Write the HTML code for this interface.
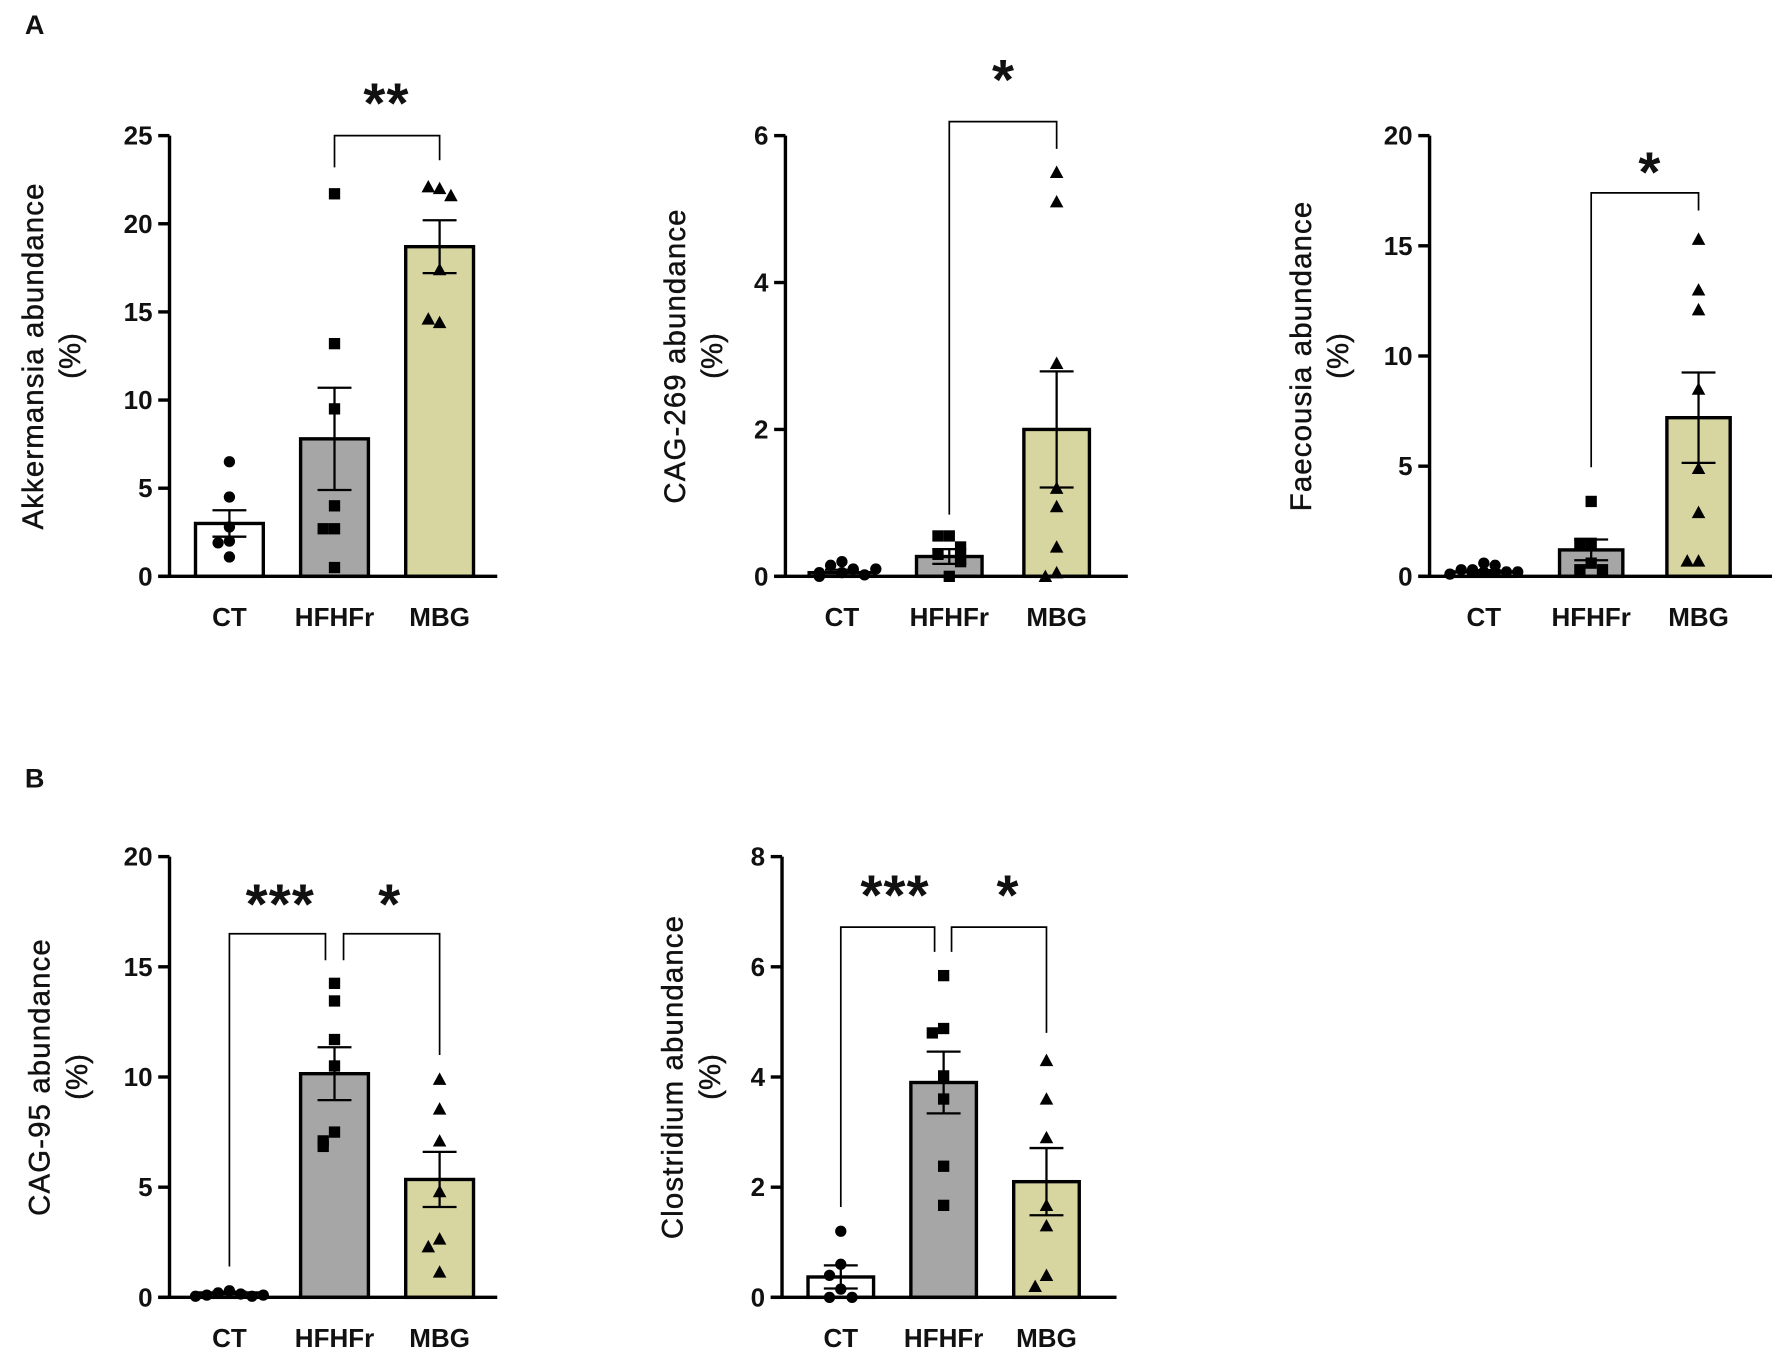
<!DOCTYPE html>
<html><head><meta charset="utf-8"><style>
html,body{margin:0;padding:0;background:#fff;}
svg{display:block;}
text{font-family:"Liberation Sans",Arial,sans-serif;fill:#111;}
</style></head><body>
<svg id="fig" width="1772" height="1355" viewBox="0 0 1568 1199" preserveAspectRatio="none" xmlns="http://www.w3.org/2000/svg">
<text x="22" y="30" font-size="24" font-weight="bold">A</text>
<text x="22" y="697" font-size="24" font-weight="bold">B</text>
</svg>
<script>
const groups = ["CT","HFHFr","MBG"];
// Akkermansia
const akkMeans = [3.0, 7.8, 18.7];
const akkSem = [0.75, 2.9, 1.5];
const akkCT = [6.5, 4.5, 2.8, 2.0, 1.9, 1.1];
const akkHF = [21.7, 13.2, 9.5, 4.0, 2.7, 2.7, 0.5];
const akkMBG = [22.0, 22.1, 21.6, 17.4, 14.4, 14.6];
const akkTicks = [0,5,10,15,20,25];
// CAG-269
const cag269Means = [0.05, 0.27, 2.0];
const cag269Sem = [0.04, 0.1, 0.79];
const cag269CT = [0.2, 0.15, 0.1, 0.05, 0.0, 0.02, 0.1, 0.05];
const cag269HF = [0.55, 0.55, 0.4, 0.3, 0.25, 0.2, 0.0];
const cag269MBG = [5.5, 5.1, 2.9, 1.2, 0.95, 0.4, 0.05, 0.0];
const cag269Ticks = [0,2,4,6];
// Faecousia
const faeMeans = [0.2, 1.2, 7.2];
const faeSem = [0.08, 0.47, 2.05];
const faeCT = [0.6, 0.3, 0.5, 0.3, 0.2, 0.1, 0.2, 0.2];
const faeHF = [3.4, 1.5, 1.5, 0.6, 0.3, 0.3];
const faeMBG = [15.3, 13.0, 12.1, 8.5, 4.9, 2.9, 0.7, 0.7];
const faeTicks = [0,5,10,15,20];
// CAG-95
const cag95Means = [0.2, 10.15, 5.35];
const cag95Sem = [0.06, 1.2, 1.25];
const cag95CT = [0.3, 0.2, 0.15, 0.1, 0.05, 0.05, 0.1];
const cag95HF = [14.25, 13.45, 11.7, 10.5, 7.5, 7.1, 6.85];
const cag95MBG = [9.9, 8.55, 7.1, 4.8, 2.65, 2.3, 1.15];
const cag95Ticks = [0,5,10,15,20];
// Clostridium
const closMeans = [0.37, 3.9, 2.1];
const closSem = [0.21, 0.56, 0.61];
const closCT = [1.2, 0.6, 0.4, 0.15, 0.0, 0.0];
const closHF = [5.84, 4.88, 4.8, 4.02, 3.6, 2.38, 1.67];
const closMBG = [4.3, 3.6, 2.9, 1.67, 1.3, 0.4, 0.2];
const closTicks = [0,2,4,6,8];

const NS = "http://www.w3.org/2000/svg";
const svg = document.getElementById("fig");
const fills = ["#ffffff","#a6a6a6","#d8d6a0"];
const offs = [0,-10,10,-20,20,-30,30,0];

function mk(tag, attrs, parent){
  const e = document.createElementNS(NS, tag);
  for (const k in attrs) e.setAttribute(k, attrs[k]);
  (parent||svg).appendChild(e);
  return e;
}

function chart(c){
  const g = mk("g", {});
  
  
  const y = v => c.y0 - (v / c.max) * (c.y0 - c.yTop);
  const x = i => c.ax + c.first + i * c.step;
  c.means.forEach((m, i) => {
    const r = mk("rect", {x: x(i)-c.bw/2, y: y(m), width: c.bw, height: c.y0 - y(m), fill: fills[i], stroke: "#000", "stroke-width": 3}, g);
    
    
  });
  c.pts.forEach((arr, i) => {
    const placed = [];
    arr.forEach((v, k) => {
      const py = y(v);
      let n = 0;
      placed.forEach(p => { if (Math.abs(p - py) < 11) n++; });
      placed.push(py);
      const px = x(i) + offs[n % offs.length];
      let p;
      if (i === 0) p = mk("circle", {cx: px, cy: py, r: 5, fill: "#000"}, g);
      else if (i === 1) p = mk("rect", {x: px-5, y: py-5, width: 10, height: 10, fill: "#000"}, g);
      else p = mk("polygon", {points: `${px},${py-6} ${px-6},${py+5} ${px+6},${py+5}`, fill: "#000"}, g);
      
      
    });
  });
  c.means.forEach((m, i) => {
    const hi = y(m + c.sem[i]), lo = y(Math.max(0, m - c.sem[i]));
    const e = mk("path", {d: `M${x(i)},${hi}V${lo}M${x(i)-15},${hi}H${x(i)+15}M${x(i)-15},${lo}H${x(i)+15}`, stroke: "#000", "stroke-width": 2, fill: "none"}, g);
    
    
  });
  const ax = mk("path", {d: `M${c.ax},${c.yTop}V${c.y0}M${c.ax-10},${c.y0}H${c.xEnd}`, stroke: "#000", "stroke-width": 3, fill: "none"}, g);
  
  
  c.ticks.forEach(t => {
    const tk = mk("path", {d: `M${c.ax-10},${y(t)}H${c.ax}`, stroke: "#000", "stroke-width": 3}, g);
    
    
    const tl = mk("text", {x: c.ax-15, y: y(t)+8, "font-size": 23, "font-weight": "bold", "text-anchor": "end"}, g);
    tl.textContent = t;
    
    
  });
  groups.forEach((n, i) => {
    const t = mk("text", {x: x(i), y: c.y0 + 44, "font-size": 23, "font-weight": "bold", "text-anchor": "middle"}, g);
    t.textContent = n;
    
    
  });
  const cy = (c.y0 + c.yTop) / 2;
  const t1 = mk("text", {x: 0, y: 0, "font-size": 26, "text-anchor": "middle", "letter-spacing": 1, stroke: "#111", "stroke-width": 0.4, transform: `translate(${c.titleX},${cy}) rotate(-90)`}, g);
  t1.textContent = c.title;
  
  
  const t2 = mk("text", {x: 0, y: 0, "font-size": 26, "text-anchor": "middle", stroke: "#111", "stroke-width": 0.4, transform: `translate(${c.titleX+33},${cy}) rotate(-90)`}, g);
  t2.textContent = "(%)";
  
  
  c.brackets.forEach(b => {
    const xa = x(b.a) + (b.da||0), xb = x(b.b) + (b.db||0);
    const br = mk("path", {d: `M${xa},${y(b.la)}V${y(b.top)}H${xb}V${y(b.lb)}`, stroke: "#000", "stroke-width": 1.5, fill: "none"}, g);
    
    
  });
  c.stars.forEach(s => {
    const st = mk("text", {x: s.x, y: y(s.v) + 26, "font-size": 50, "font-weight": "bold", "text-anchor": "middle", "letter-spacing": 1}, g);
    st.textContent = s.t;
    
    
  });
}

chart({name:"akkermansia-chart", ax:150, y0:510, yTop:120, max:25, xEnd:440, first:53, step:93, bw:60,
  means:akkMeans, sem:akkSem, pts:[akkCT,akkHF,akkMBG], ticks:akkTicks, title:"Akkermansia abundance", titleX:38,
  brackets:[{a:1,b:2,top:25,la:23.2,lb:23.6}], stars:[{x:342,v:27.4,t:"**"}]});
chart({name:"cag269-chart", ax:695, y0:510, yTop:120, max:6, xEnd:998, first:50, step:95, bw:58,
  means:cag269Means, sem:cag269Sem, pts:[cag269CT,cag269HF,cag269MBG], ticks:cag269Ticks, title:"CAG-269 abundance", titleX:606,
  brackets:[{a:1,b:2,top:6.19,la:0.84,lb:5.82}], stars:[{x:888,v:6.9,t:"*"}]});
chart({name:"faecousia-chart", ax:1265, y0:510, yTop:120, max:20, xEnd:1568, first:48, step:95, bw:56,
  means:faeMeans, sem:faeSem, pts:[faeCT,faeHF,faeMBG], ticks:faeTicks, title:"Faecousia abundance", titleX:1160,
  brackets:[{a:1,b:2,top:17.4,la:4.95,lb:16.6}], stars:[{x:1460,v:18.8,t:"*"}]});
chart({name:"cag95-chart", ax:150, y0:1148, yTop:758, max:20, xEnd:440, first:53, step:93, bw:60,
  means:cag95Means, sem:cag95Sem, pts:[cag95CT,cag95HF,cag95MBG], ticks:cag95Ticks, title:"CAG-95 abundance", titleX:44,
  brackets:[{a:0,b:1,db:-8,top:16.5,la:1.4,lb:15.3},{a:1,b:2,da:8,top:16.5,la:15.3,lb:11.0}],
  stars:[{x:248,v:18.3,t:"***"},{x:345,v:18.3,t:"*"}]});
chart({name:"clostridium-chart", ax:692, y0:1148, yTop:758, max:8, xEnd:988, first:52, step:91, bw:58,
  means:closMeans, sem:closSem, pts:[closCT,closHF,closMBG], ticks:closTicks, title:"Clostridium abundance", titleX:604,
  brackets:[{a:0,b:1,db:-8,top:6.72,la:1.64,lb:6.27},{a:1,b:2,da:7,top:6.72,la:6.27,lb:4.8}],
  stars:[{x:792,v:7.48,t:"***"},{x:892,v:7.48,t:"*"}]});
</script>
</body></html>
